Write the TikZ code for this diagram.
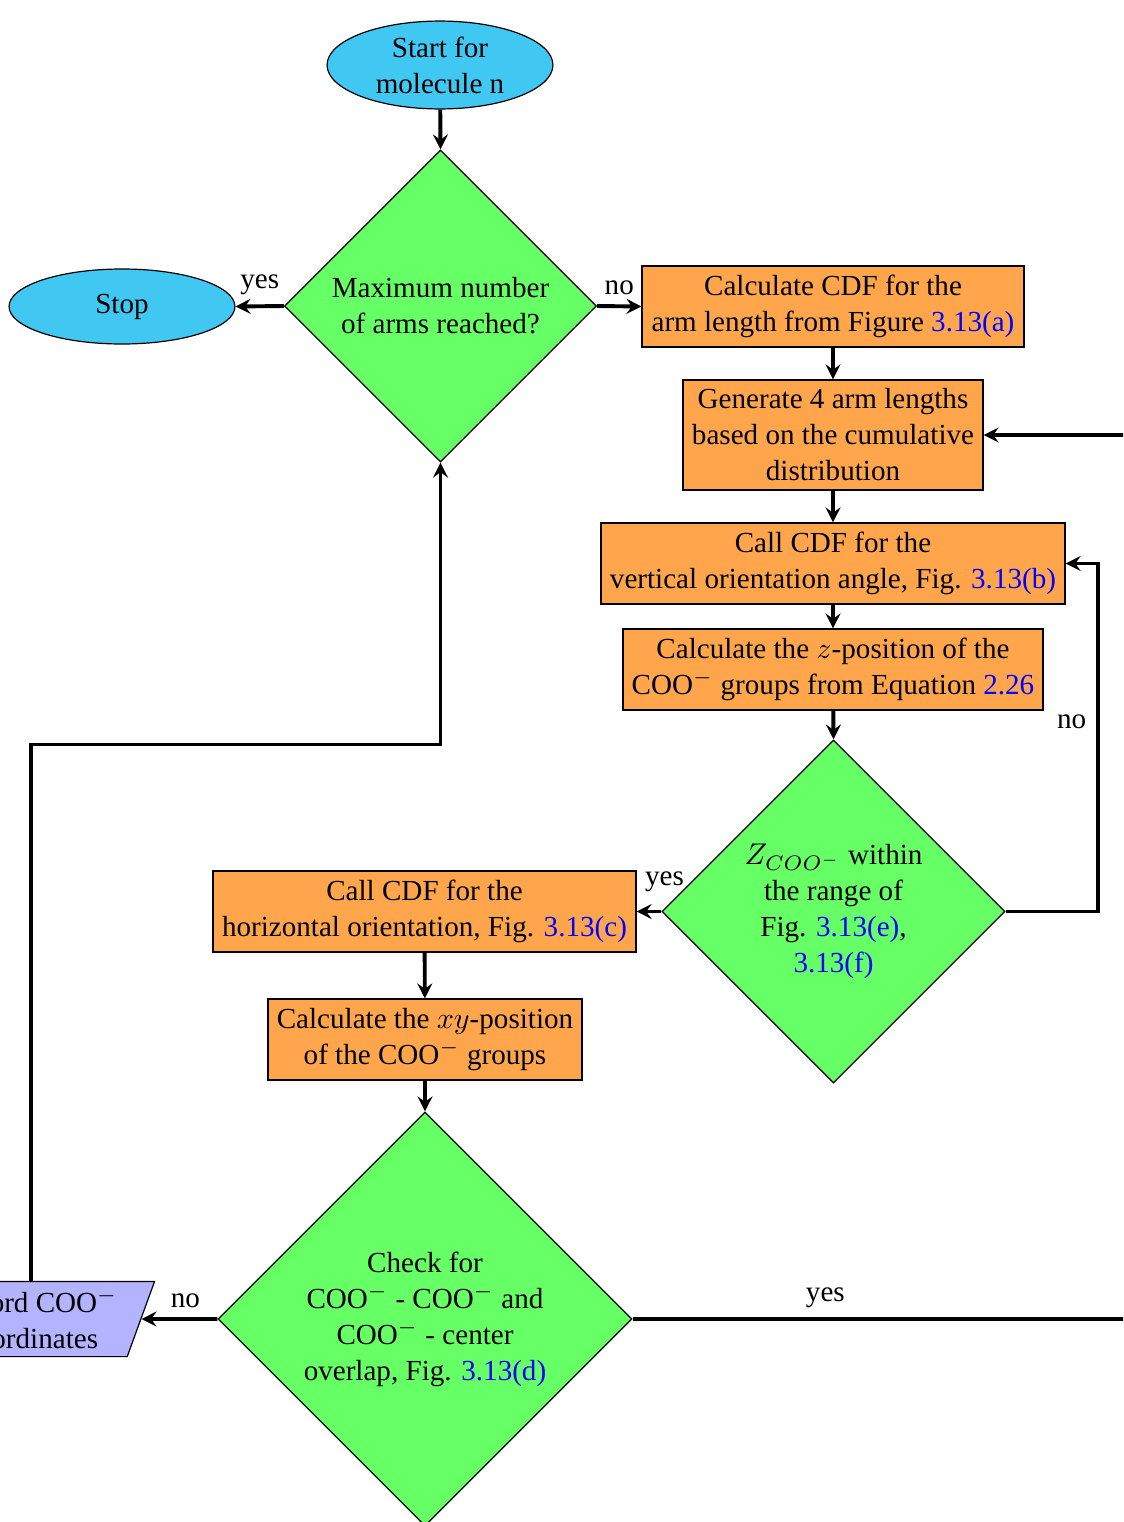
\documentclass[tikz,border=0pt]{standalone}
\usepackage{fontspec}
\setmainfont{Liberation Serif}[Scale=0.97]
\usetikzlibrary{shapes.geometric,arrows.meta}
\definecolor{termcol}{RGB}{64,200,242}
\definecolor{proccol}{RGB}{255,166,77}
\definecolor{deccol}{RGB}{102,255,102}
\definecolor{iocol}{RGB}{179,179,255}
\newcommand{\lnk}[1]{\textcolor{blue}{#1}}
\begin{document}
\begin{tikzpicture}[x=0.333333pt,y=-0.333333pt,
 term/.style={ellipse, draw, fill=termcol, inner sep=0pt, align=center},
 proc/.style={rectangle, draw, fill=proccol, inner xsep=2pt, inner ysep=2.5pt, minimum height=27pt, align=center},
 dec/.style={diamond, draw, fill=deccol, inner sep=0pt, aspect=1, align=center},
 io/.style={trapezium, trapezium left angle=70, trapezium right angle=110, draw, fill=iocol, inner ysep=2.5pt, align=center},
 arr/.style={line width=1.3pt, -{Stealth[length=5pt,width=5pt,inset=1.8pt]}},
 lbl/.style={inner sep=0pt}]
\useasboundingbox (0,0) rectangle (1123,1522);
\clip (0,0) rectangle (1123,1522);

\node[term, minimum width=75.3pt, minimum height=29.3pt] (start) at (440,65) {Start for\\molecule n};
\node[dec, minimum size=104pt] (d1) at (440.5,306) {Maximum number\\of arms reached?};
\node[term, minimum width=75.3pt, minimum height=25pt] (stop) at (122,306.5) {Stop};
\node[proc, minimum width=127.3pt] (b1) at (833,306.5) {Calculate CDF for the\\arm length from Figure \lnk{3.13(a)}};
\node[proc, minimum width=100pt, minimum height=36.7pt] (b2) at (833,435) {Generate 4 arm lengths\\based on the cumulative\\distribution};
\node[proc, minimum width=154.7pt] (b3) at (833,563.5) {Call CDF for the\\vertical orientation angle, Fig. \lnk{3.13(b)}};
\node[proc, minimum width=140pt] (b4) at (833,669.5) {Calculate the $z$-position of the\\COO$^-$ groups from Equation \lnk{2.26}};
\node[dec, minimum size=114.3pt] (d2) at (833.5,911.5) {$Z_{COO^-}$ within\\the range of\\Fig. \lnk{3.13(e)},\\\lnk{3.13(f)}};
\node[proc, minimum width=141pt] (b5) at (424.5,911.5) {Call CDF for the\\horizontal orientation, Fig. \lnk{3.13(c)}};
\node[proc, minimum width=104.7pt] (b6) at (425,1039.5) {Calculate the $xy$-position\\of the COO$^-$ groups};
\node[dec, minimum size=138pt] (d3) at (425,1319) {Check for\\COO$^-$ - COO$^-$ and\\COO$^-$ - center\\overlap, Fig. \lnk{3.13(d)}};
\node[io] (par) at (31,1319) {Record COO$^-$\\coordinates};

\coordinate (lk) at (31,744.5);
\coordinate (rloop) at (1098,563.5);
\coordinate (rb) at (1160,1319);

\draw[arr] (start) -- (d1.north);
\draw[arr] (d1.west) -- node[lbl, above=3.2pt]{yes} (stop.east);
\draw[arr] (d1.east) -- node[lbl, above=3.2pt]{no} (b1.west);
\draw[arr] (b1) -- (b2);
\draw[arr] (b2) -- (b3);
\draw[arr] (b3) -- (b4);
\draw[arr] (b4) -- (d2.north);
\draw[arr] (d2.west) -- node[lbl, above=6pt, pos=0, xshift=1pt]{yes} (b5.east);
\draw[arr] (d2.east) -| node[lbl, left=3.3pt, pos=0.773]{no} (rloop) -- (b3.east);
\draw[arr] (b5) -- (b6);
\draw[arr] (b6) -- (d3.north);
\draw[arr] (d3.west) -- node[lbl, above=3.2pt, xshift=2pt]{no} (par.east);
\draw[arr] (d3.east) -- node[lbl, above=3.2pt, pos=0.3655]{yes} (rb) |- (b2.east);
\draw[arr] (par.center |- par.north) -- (par.center |- lk) -| (d1.south);
\end{tikzpicture}
\end{document}
